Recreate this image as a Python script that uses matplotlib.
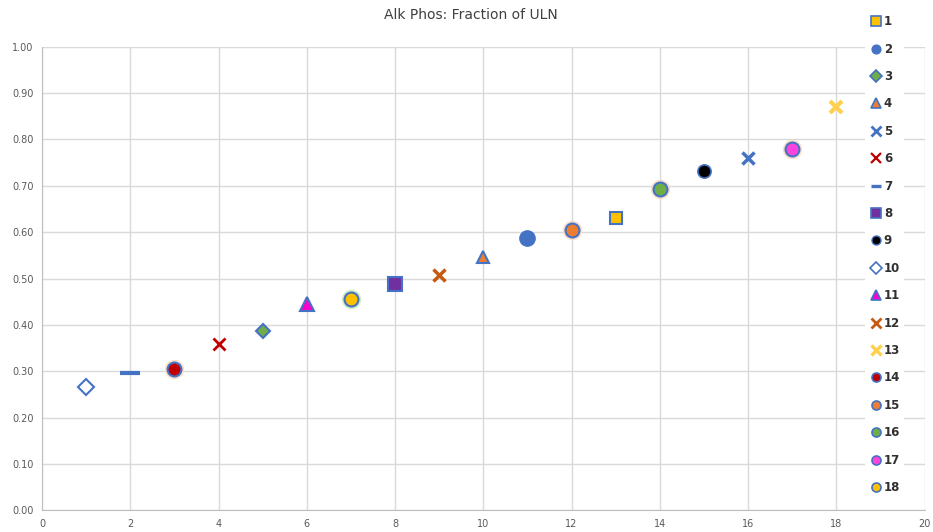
import matplotlib.pyplot as plt
from matplotlib.lines import Line2D

# series 1..18: x position, fraction of ULN
series_names = [str(i) for i in range(1, 19)]
x_vals = [13, 11, 5, 10, 16, 4, 2, 8, 15, 1, 6, 9, 18, 3, 12, 14, 17, 7]
y_vals = [0.631, 0.588, 0.387, 0.546, 0.760, 0.358, 0.297, 0.488, 0.733,
          0.265, 0.446, 0.508, 0.871, 0.305, 0.605, 0.693, 0.780, 0.456]

x_ticks = list(range(0, 21, 2))
y_ticks = [i / 10 for i in range(11)]

BLUE = "#4472c4"
# marker, face, edge, size, edge width, glow colour
styles = [
    ("s", "#ffc000", BLUE, 9, 1.5, None),
    ("o", BLUE, BLUE, 11, 1.0, None),
    ("D", "#70ad47", BLUE, 7, 1.5, None),
    ("^", "#ed7d31", BLUE, 9, 1.5, None),
    ("x", BLUE, BLUE, 9, 2.5, None),
    ("x", "#c00000", "#c00000", 9, 2.0, None),
    ("_", BLUE, BLUE, 14, 3.0, None),
    ("s", "#7030a0", BLUE, 10, 1.5, None),
    ("o", "black", BLUE, 9.5, 1.2, None),
    ("D", "white", BLUE, 8, 1.5, None),
    ("^", "#ff00cc", BLUE, 10, 1.5, None),
    ("x", "#c55a11", "#c55a11", 9, 2.5, None),
    ("x", "#ffd04d", "#ffd04d", 9, 3.0, None),
    ("o", "#c00000", BLUE, 10, 1.5, "#fbe0cc"),
    ("o", "#ed7d31", BLUE, 10, 1.5, "#fbe0cc"),
    ("o", "#70ad47", BLUE, 10, 1.5, "#fbe0cc"),
    ("o", "#ff44dd", BLUE, 10, 1.5, "#fbe0cc"),
    ("o", "#ffc000", BLUE, 10, 1.5, "#d5ecc4"),
]

fig = plt.figure(figsize=(9.33, 5.32), dpi=100)
ax = fig.add_axes([0.045, 0.041, 0.946, 0.871])

handles = []
for name, x, y, (m, fc, ec, ms, mew, glow) in zip(series_names, x_vals, y_vals, styles):
    if glow:
        ax.plot([x], [y], marker="o", ms=ms + 4, mfc=glow, mec="none",
                ls="none", zorder=2)
    ax.plot([x], [y], marker=m, ms=ms, mfc=fc, mec=ec, mew=mew,
            ls="none", zorder=3)
    handles.append(Line2D([], [], marker=m, ms=6.5, mfc=fc, mec=ec,
                          mew=mew * 0.8, ls="none", label=name))

ax.set_xlim(0, 20)
ax.set_ylim(0, 1)
ax.set_xticks(x_ticks)
ax.set_yticks(y_ticks)
ax.set_yticklabels([f"{v:.2f}" for v in y_ticks])
ax.tick_params(length=0, labelsize=7, colors="#595959", pad=6)
ax.grid(True, color="#d9d9d9", lw=1)
ax.set_axisbelow(True)
for s in ["top", "right"]:
    ax.spines[s].set_visible(False)
for s in ["left", "bottom"]:
    ax.spines[s].set_color("#bfbfbf")

fig.suptitle("Alk Phos: Fraction of ULN", x=0.505, y=0.985,
             fontsize=10, color="#404040")

leg = fig.legend(handles=handles, loc="upper left", bbox_to_anchor=(0.927, 0.978),
                 frameon=True, framealpha=1, edgecolor="none", fontsize=8.5,
                 labelspacing=1.22, handletextpad=0.1, handlelength=1.2,
                 borderpad=0.3, borderaxespad=0)
for t in leg.get_texts():
    t.set_fontweight("bold")
    t.set_color("#303030")

fig.savefig("out.png", dpi=100)
